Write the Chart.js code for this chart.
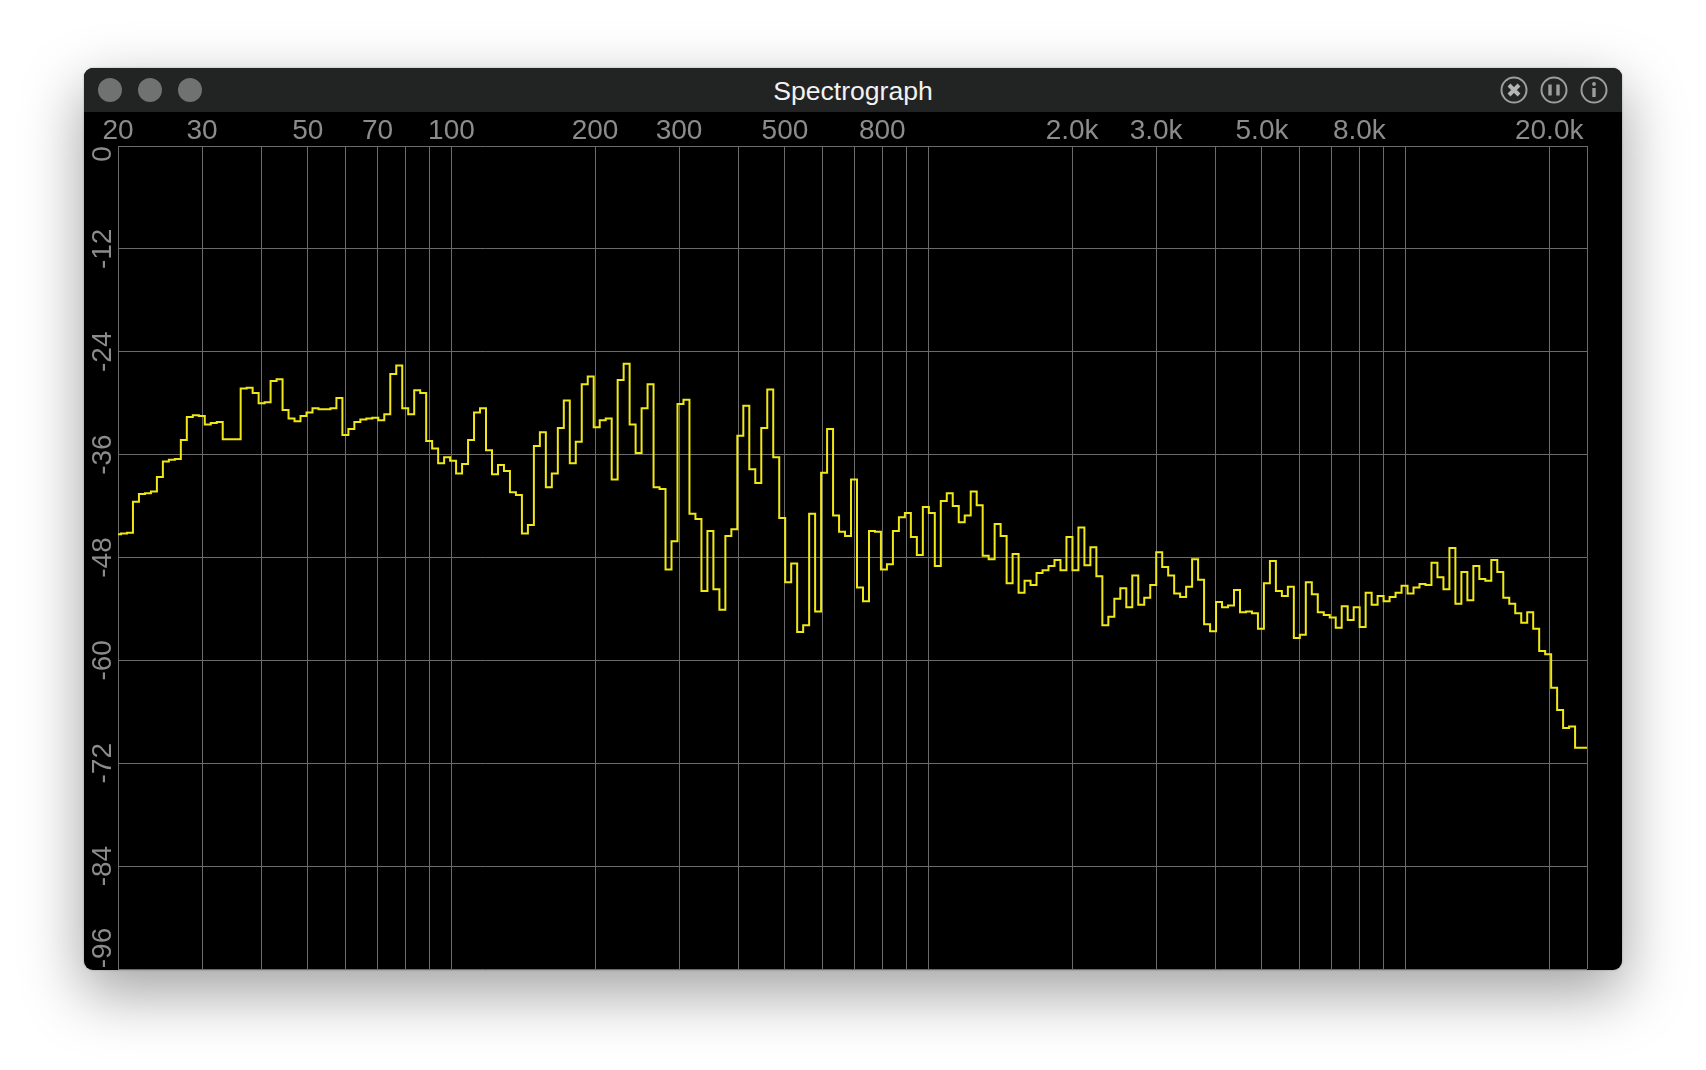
<!DOCTYPE html>
<html>
<head>
<meta charset="utf-8">
<title>Spectrograph</title>
<script src="https://cdn.jsdelivr.net/npm/chart.js@4"></script>
<style>
  html, body { margin: 0; padding: 0; background: #fff; }
  body { width: 1706px; height: 1070px; overflow: hidden; position: relative; font-family: "Liberation Sans", sans-serif; }
  #win { position: absolute; left: 84px; top: 68px; width: 1538px; height: 902px; background: #000; border-radius: 9px;
         box-shadow: 0 22px 60px 2px rgba(0,0,0,.36), 0 0 2px rgba(0,0,0,.3); overflow: hidden; }
  #bar { position: absolute; left: 0; top: 0; width: 100%; height: 44px; background: #222423; }
  #title { position: absolute; left: 0; width: 100%; top: 7px; line-height: 32px; text-align: center; font-size: 26.6px; color: #f2f2f2; }
  .dot { position: absolute; top: 10px; width: 24px; height: 24px; border-radius: 50%; background: #6f7270; }
  #icons { position: absolute; left: 1416px; top: 8px; }
  #chartBox { position: absolute; left: 0; top: 44px; }
</style>
</head>
<body>
<div id="win">
  <div id="bar">
    <div class="dot" style="left:14px"></div>
    <div class="dot" style="left:54px"></div>
    <div class="dot" style="left:94px"></div>
    <div id="title">Spectrograph</div>
    <svg id="icons" width="110" height="28" fill="none" stroke="#9c9e9d" stroke-width="2">
      <circle cx="14" cy="14" r="12.5"/>
      <path d="M9 9 L19 19 M19 9 L9 19" stroke="#b4b6b5" stroke-width="4"/>
      <circle cx="54" cy="14" r="12.5"/>
      <path d="M50 8.5 V19.5 M58 8.5 V19.5" stroke-width="3.4"/>
      <circle cx="94" cy="14" r="12.5"/>
      <path d="M94 12 V21" stroke-width="3.4"/>
      <circle cx="94" cy="8" r="1.9" fill="#9c9e9d" stroke="none"/>
    </svg>
  </div>
  <div id="chartBox"><canvas id="mycanvas" width="1538" height="858"></canvas></div>
</div>
<script>
// levels per 1/24 octave band (dB)
var levelsDb = [
  -45.3,-45.2,-45.1,-41.5,-40.6,-40.5,-40.3,-38.6,-36.8,-36.6,-36.5,-34.3,-31.6,-31.4,-31.5,-32.5,-32.3,-32.2,-34.2,-34.2,
  -34.2,-28.3,-28.2,-28.8,-30.0,-29.9,-27.4,-27.2,-30.8,-31.8,-32.1,-31.5,-31.1,-30.6,-30.7,-30.7,-30.6,-29.4,-33.7,-33.0,
  -32.2,-31.9,-31.8,-31.7,-32.0,-31.3,-26.6,-25.6,-30.6,-31.3,-28.5,-28.8,-34.4,-35.3,-37.0,-36.3,-36.7,-38.2,-37.1,-34.3,
  -31.1,-30.6,-35.5,-38.3,-37.2,-37.9,-40.4,-40.7,-45.2,-44.2,-35.0,-33.4,-39.8,-38.2,-32.9,-29.7,-37.0,-34.5,-27.8,-26.9,
  -32.8,-32.0,-31.8,-38.9,-27.3,-25.4,-32.5,-35.8,-30.6,-27.8,-39.8,-40.0,-49.4,-46.1,-30.1,-29.6,-42.9,-43.5,-51.9,-44.9,
  -51.7,-54.1,-45.5,-44.7,-33.8,-30.3,-37.7,-39.3,-32.9,-28.4,-36.3,-43.4,-50.9,-48.7,-56.7,-55.9,-42.9,-54.3,-38.1,-33.0,
  -43.1,-45.0,-45.5,-38.9,-51.5,-53.1,-44.9,-45.0,-49.4,-48.8,-44.9,-43.3,-42.8,-45.6,-47.7,-42.1,-42.8,-49.0,-41.4,-40.5,
  -42.0,-43.9,-43.1,-40.3,-41.9,-47.8,-48.2,-44.1,-45.5,-51.0,-47.6,-52.1,-50.7,-51.2,-49.8,-49.5,-49.0,-48.3,-49.5,-45.6,
  -49.5,-44.5,-48.9,-46.8,-50.2,-55.9,-54.9,-52.8,-51.6,-53.8,-50.1,-53.5,-52.7,-51.2,-47.4,-49.1,-50.1,-52.2,-52.6,-51.4,
  -48.2,-50.6,-55.8,-56.6,-53.2,-53.8,-53.6,-51.8,-54.4,-54.3,-54.5,-56.3,-51.0,-48.4,-51.9,-52.5,-51.4,-57.4,-57.0,-50.9,
  -52.3,-54.4,-54.7,-55.0,-56.2,-53.7,-55.3,-53.8,-56.1,-52.1,-53.5,-52.5,-53.1,-52.6,-52.1,-51.3,-52.2,-51.5,-51.1,-51.2,
  -48.6,-50.3,-51.7,-46.9,-53.4,-49.7,-53.0,-49.0,-50.5,-50.7,-48.3,-49.7,-52.7,-53.4,-54.5,-55.6,-54.4,-56.3,-58.9,-59.3,
  -63.2,-65.8,-67.9,-67.7,-70.2,-70.2,-70.2
];
var lowFreq = 20;
var highFreq = 24000;
var bandsPerOctave = 24;

var gridFreqs = [20,30,40,50,60,70,80,90,100,200,300,400,500,600,700,800,900,1000,2000,3000,4000,5000,6000,7000,8000,9000,10000,20000,24000];
var labelFreqs = [20,30,50,70,100,200,300,500,800,2000,3000,5000,8000,20000];
var freqLabels = ["20","30","50","70","100","200","300","500","800","2.0k","3.0k","5.0k","8.0k","20.0k"];
var dbTicks = [0,-12,-24,-36,-48,-60,-72,-84,-96];

var points = [];
for (var i = 0; i < levelsDb.length; i++) {
  points.push({ x: lowFreq * Math.pow(2, i / bandsPerOctave), y: levelsDb[i] });
}

var gridColor = "#6b6b6b";
var labelColor = "#8c8c8c";
var labelFont = { family: "Liberation Sans", size: 28 };

// the end labels on the dB axis sit inside the plot instead of centred on their line
var edgeLabels = {
  id: "edgeLabels",
  afterLayout: function(chart) {
    var scale = chart.scales.y;
    var items = scale.getLabelItems();
    items.forEach(function(item, n) {
      var v = scale.ticks[n].value;
      if (v === 0) item.options.translation[1] += 8;
      if (v === -96) item.options.translation[1] -= 21;
    });
  }
};

var ctx = document.getElementById("mycanvas");
new Chart(ctx, {
  type: "line",
  data: {
    datasets: [{
      data: points,
      stepped: "middle",
      borderColor: "#f0e816",
      borderWidth: 2,
      pointRadius: 0,
      fill: false
    }]
  },
  options: {
    responsive: false,
    animation: false,
    devicePixelRatio: 1,
    layout: { padding: { right: 35, bottom: 1 } },
    plugins: { legend: { display: false }, tooltip: { enabled: false } },
    scales: {
      x: {
        type: "logarithmic",
        position: "top",
        min: lowFreq,
        max: highFreq,
        afterBuildTicks: function(scale) {
          scale.ticks = gridFreqs.map(function(f) { return { value: f }; });
        },
        afterFit: function(scale) { scale.height = 34; },
        grid: { color: gridColor, lineWidth: 1, drawTicks: false },
        border: { display: false },
        ticks: {
          autoSkip: false,
          maxRotation: 0,
          minRotation: 0,
          padding: -2,
          color: labelColor,
          font: labelFont,
          callback: function(value) {
            var n = labelFreqs.indexOf(value);
            return n < 0 ? "" : freqLabels[n];
          }
        }
      },
      y: {
        type: "linear",
        min: -96,
        max: 0,
        afterBuildTicks: function(scale) {
          scale.ticks = dbTicks.map(function(d) { return { value: d }; });
        },
        afterFit: function(scale) {
          scale.width = 34;
          scale.paddingTop = 0;
          scale.paddingBottom = 0;
        },
        grid: { color: gridColor, lineWidth: 1, drawTicks: false },
        border: { display: false },
        ticks: {
          autoSkip: false,
          minRotation: 90,
          maxRotation: 90,
          crossAlign: "center",
          padding: -6,
          color: labelColor,
          font: labelFont,
          callback: function(value) { return String(value); }
        }
      }
    }
  },
  plugins: [edgeLabels]
});
</script>
</body>
</html>
